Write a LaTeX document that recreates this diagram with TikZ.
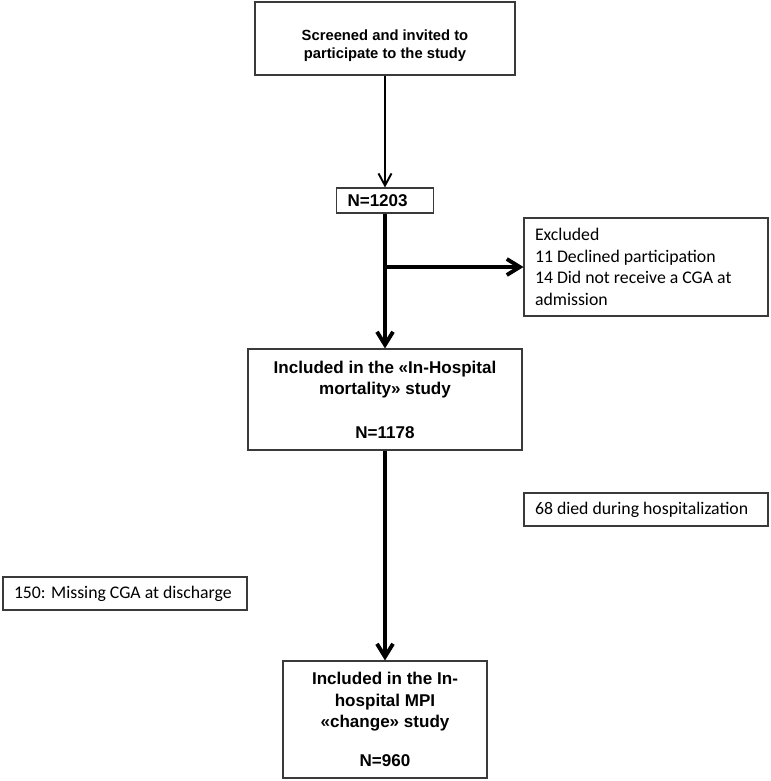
\documentclass[tikz,border=0pt]{standalone}
\usepackage{fontspec}
\setmainfont{Liberation Sans}
\newfontfamily\calibrifont{Carlito}
\usetikzlibrary{arrows.meta}
\usepackage{xcolor}
\definecolor{BoxLine}{HTML}{3A3A3A}
\definecolor{FlowLine}{HTML}{000000}

\begin{document}
\begin{tikzpicture}[
	% Style for the bold boxes on the main path
	main box/.style={
		rectangle,
		draw=BoxLine,
		line width=0.6pt,
		align=center,
		inner sep=0pt,
		font=\fontsize{9.7}{12.3}\selectfont\bfseries
	},
	% Style for the boxes beside the main path
	side box/.style={
		rectangle,
		draw=BoxLine,
		line width=0.6pt,
		align=flush left,
		text width=4.44cm,
		inner xsep=0.22cm,
		inner ysep=0pt,
		minimum width=4.88cm,
		font=\calibrifont\fontsize{10.1}{12.3}\selectfont
	},
	% Style for the thin first arrow
	thin flow/.style={
		draw=FlowLine,
		line width=1.1pt,
		-{Straight Barb[length=2.4mm,width=2.6mm]}
	},
	% Style for the thick arrows
	flow/.style={
		draw=FlowLine,
		line width=2.2pt,
		-{Straight Barb[length=2.6mm,width=3.2mm]}
	}
	]
	
	\useasboundingbox (0,0) rectangle (15.42,-15.62);
	
	% 1. Boxes on the main path
	\node[main box, minimum width=5.2cm, minimum height=1.46cm,
		font=\fontsize{8.4}{10.4}\selectfont\bfseries] (screened) at (7.7,-0.77)
		{\raisebox{-0.14cm}[\height][\depth]{\begin{tabular}{@{}c@{}}Screened and invited to\\participate to the study\end{tabular}}};
	
	\node[main box, align=left, text width=1.5cm, inner xsep=0.22cm,
		minimum height=0.5cm] (n1203) at (7.7,-4.01) {N=1203};
	
	\node[main box, minimum width=5.48cm, minimum height=2.02cm] (mortality) at (7.7,-7.99)
		{Included in the «In-Hospital\\mortality» study\\[12.3pt]N=1178};
	
	\node[main box, minimum width=4.08cm, minimum height=2.34cm] (change) at (7.7,-14.39)
		{Included in the In-\\hospital MPI\\«change» study\\[10pt]N=960};
	
	% 2. Boxes beside the main path
	\node[side box, minimum height=1.96cm] (excluded) at (12.92,-5.34)
		{Excluded\\11 Declined participation\\14 Did not receive a CGA at\\admission};
	
	\node[side box, minimum height=0.66cm] (died) at (12.92,-10.19)
		{\mbox{68 died during hospitalization}};
	
	\node[side box, minimum height=0.66cm] (missing) at (2.5,-11.87)
		{\mbox{150: Missing CGA at discharge}};
	
	% 3. Arrows
	\draw[thin flow] (screened) -- (n1203);
	\draw[flow] (n1203) -- (mortality);
	\coordinate (branch) at (n1203.south |- excluded.west);
	\draw[flow] (branch) -- (excluded);
	\draw[flow] (mortality) -- (change);
	
\end{tikzpicture}
\end{document}
